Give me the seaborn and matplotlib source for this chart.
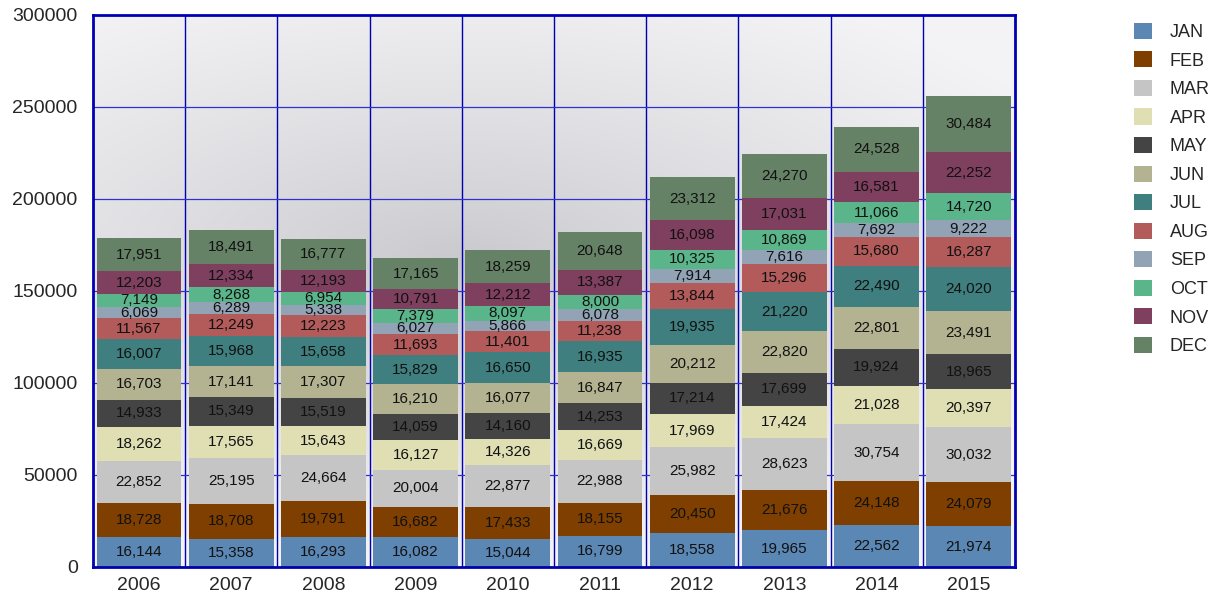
import numpy as np
import pandas as pd
import matplotlib
matplotlib.use("Agg")
import matplotlib.pyplot as plt
import seaborn as sns
from matplotlib.patches import Patch

years = ["2006", "2007", "2008", "2009", "2010", "2011", "2012", "2013", "2014", "2015"]
months = ["JAN", "FEB", "MAR", "APR", "MAY", "JUN", "JUL", "AUG", "SEP", "OCT", "NOV", "DEC"]

jan = [16144, 15358, 16293, 16082, 15044, 16799, 18558, 19965, 22562, 21974]
feb = [18728, 18708, 19791, 16682, 17433, 18155, 20450, 21676, 24148, 24079]
mar = [22852, 25195, 24664, 20004, 22877, 22988, 25982, 28623, 30754, 30032]
apr = [18262, 17565, 15643, 16127, 14326, 16669, 17969, 17424, 21028, 20397]
may = [14933, 15349, 15519, 14059, 14160, 14253, 17214, 17699, 19924, 18965]
jun = [16703, 17141, 17307, 16210, 16077, 16847, 20212, 22820, 22801, 23491]
jul = [16007, 15968, 15658, 15829, 16650, 16935, 19935, 21220, 22490, 24020]
aug = [11567, 12249, 12223, 11693, 11401, 11238, 13844, 15296, 15680, 16287]
sep = [6069, 6289, 5338, 6027, 5866, 6078, 7914, 7616, 7692, 9222]
oct_ = [7149, 8268, 6954, 7379, 8097, 8000, 10325, 10869, 11066, 14720]
nov = [12203, 12334, 12193, 10791, 12212, 13387, 16098, 17031, 16581, 22252]
dec = [17951, 18491, 16777, 17165, 18259, 20648, 23312, 24270, 24528, 30484]

colors = ["#5b87b5", "#7f3f00", "#c5c5c5", "#dfdfb3", "#444444", "#b3b391",
          "#3f7f7f", "#b35a5a", "#91a3b5", "#5ab58a", "#7f3f5f", "#668266"]

df = pd.DataFrame(dict(zip(months, [jan, feb, mar, apr, may, jun, jul, aug, sep, oct_, nov, dec])), index=years)
cum = df.cumsum(axis=1)

sns.set_theme(style="white")
plt.rcParams["font.family"] = ["Liberation Sans", "DejaVu Sans"]

fig = plt.figure(figsize=(12.15, 5.98), dpi=100)
ax = fig.add_axes([0.0765, 0.052, 0.7588, 0.923])

# background radial gradient
gx, gy = np.meshgrid(np.linspace(0, 1, 300), np.linspace(0, 1, 200))
r = np.sqrt(((gx - 0.4) / 0.75) ** 2 + ((gy - 0.55) / 0.55) ** 2)
r = np.clip(r, 0, 1)
dark = np.array([0.78, 0.78, 0.80])
light = np.array([0.955, 0.955, 0.965])
img = dark[None, None, :] + (light - dark)[None, None, :] * (r[..., None] ** 0.8)
ax.imshow(img, extent=[-0.5, 9.5, 0, 300000], aspect="auto", origin="lower", zorder=0)

# stacked bars: draw cumulative totals from top month down
for i in range(len(months) - 1, -1, -1):
    m = months[i]
    sns.barplot(x=years, y=cum[m].values, color=colors[i], saturation=1,
                width=0.92, ax=ax, zorder=2, linewidth=0)

for i, m in enumerate(months):
    base = cum[m].values - df[m].values
    for j, y in enumerate(years):
        v = df[m].values[j]
        ax.text(j, base[j] + v / 2, f"{v:,}", ha="center", va="center",
                fontsize=11, color="#111111", zorder=3)

ax.set_xlim(-0.5, 9.5)
ax.set_ylim(0, 300000)
ax.set_yticks(np.arange(0, 300001, 50000))
ax.set_yticklabels([str(v) for v in range(0, 300001, 50000)], fontsize=14)
ax.set_xticks(range(len(years)))
ax.set_xticklabels(years, fontsize=14)
ax.set_xlabel("")
ax.set_ylabel("")

blue = "#0000b0"
for x in np.arange(0.5, 9.5, 1):
    ax.axvline(x, color=blue, lw=1, zorder=1)
for yv in range(50000, 300000, 50000):
    ax.axhline(yv, color="#3030d0", lw=0.9, zorder=1)
for s in ax.spines.values():
    s.set_color(blue)
    s.set_linewidth(2)
    s.set_visible(True)
ax.tick_params(axis="y", length=7, width=2, color=blue, direction="out", pad=4)
ax.tick_params(axis="x", length=0, pad=7)

handles = [Patch(facecolor=c, edgecolor="none", label=m) for m, c in zip(months, colors)]
ax.legend(handles=handles, loc="upper left", bbox_to_anchor=(1.121, 0.999), frameon=False,
          fontsize=13, handlelength=1.0, handleheight=1.0, labelspacing=0.57,
          handletextpad=1.0, borderaxespad=0)

fig.savefig("out.png", dpi=100)
